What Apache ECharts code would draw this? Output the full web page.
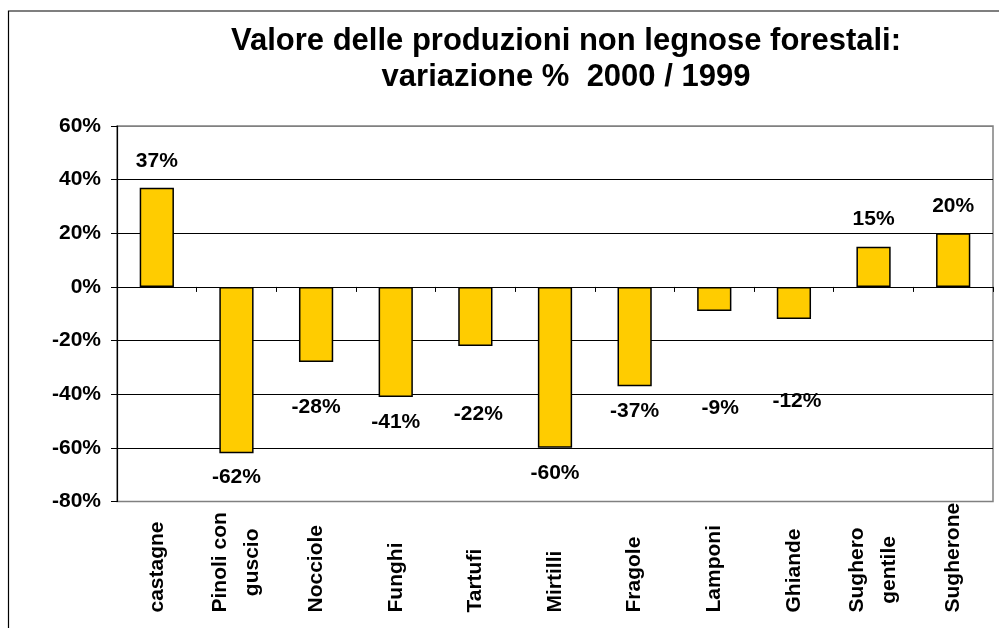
<!DOCTYPE html>
<html>
<head>
<meta charset="utf-8">
<script src="https://cdn.jsdelivr.net/npm/echarts@6/dist/echarts.min.js"></script>
<style>
  html, body { margin: 0; padding: 0; background: #fff; }
  #chart { width: 999px; height: 628px; }
</style>
</head>
<body>
<div id="chart"></div>
<script>
// dati
const categories = ['castagne', 'Pinoli con\nguscio', 'Nocciole', 'Funghi', 'Tartufi', 'Mirtilli',
  'Fragole', 'Lamponi', 'Ghiande', 'Sughero\ngentile', 'Sugherone'];
const variazione = [37, -62, -28, -41, -22, -60, -37, -9, -12, 15, 20];
const yTicks = { min: -80, max: 60, step: 20 };

// spostamento delle etichette (posizionate a mano nell'originale)
const labelShift = [[0, -1], [0, 1], [0, 23], [0, 3], [3, 46], [0, 3], [0, 3], [6, 75], [3, 60], [0, -2], [0, -2]];

const FONT = 'Liberation Sans, Arial, sans-serif';

let myChart = echarts.init(document.getElementById('chart'));

// linee di griglia: bordo grigio sopra/sotto, nere in mezzo
let gridColors = [];
for (let v = yTicks.min; v <= yTicks.max; v += yTicks.step) {
  gridColors.push(v === yTicks.min || v === yTicks.max ? '#808080' : '#000');
}

let option = {
  backgroundColor: '#fff',
  animation: false,
  title: {
    text: 'Valore delle produzioni non legnose forestali:\nvariazione %  2000 / 1999',
    left: 566,
    top: 23,
    textAlign: 'center',
    padding: 0,
    textStyle: {
      fontFamily: FONT,
      fontWeight: 'bold',
      fontSize: 31,
      lineHeight: 36,
      color: '#000'
    }
  },
  graphic: [{
    type: 'rect',
    shape: { x: 8.5, y: 11, width: 1100, height: 800 },
    style: { fill: 'none', stroke: '#000', lineWidth: 1.2 },
    silent: true
  }],
  grid: {
    left: 117,
    right: 6,
    top: 126,
    bottom: 126.5,
    show: true,
    borderColor: '#808080',
    borderWidth: 1.5
  },
  xAxis: [{
    type: 'category',
    data: categories,
    axisLine: { onZero: true, lineStyle: { color: '#000', width: 1 } },
    axisTick: { show: true, inside: false, length: 5, lineStyle: { color: '#000' } },
    axisLabel: { show: false }
  }, {
    type: 'category',
    data: categories,
    position: 'bottom',
    axisLine: { show: false, onZero: false },
    axisTick: { show: false },
    axisLabel: {
      interval: 0,
      rotate: 90,
      align: 'left',
      margin: 111,
      formatter: (v) => v.split('\n').map(s => '{a|' + s + '}').join('\n'),
      rich: {
        a: {
          fontFamily: FONT,
          fontWeight: 'bold',
          fontSize: 21,
          lineHeight: 32,
          color: '#000',
          align: 'center'
        }
      }
    }
  }],
  yAxis: {
    type: 'value',
    min: yTicks.min,
    max: yTicks.max,
    interval: yTicks.step,
    axisLine: { show: true, lineStyle: { color: '#000', width: 1.2 } },
    axisTick: { show: true, length: 6, lineStyle: { color: '#000' } },
    axisLabel: {
      formatter: '{value}%',
      margin: 16,
      fontFamily: FONT,
      fontWeight: 'bold',
      fontSize: 21,
      color: '#000'
    },
    splitLine: { show: true, lineStyle: { color: gridColors, width: 1 } }
  },
  series: [{
    type: 'bar',
    xAxisIndex: 0,
    barWidth: '43%',
    data: variazione.map((v, i) => ({
      value: v,
      label: {
        position: v < 0 ? 'bottom' : 'top',
        distance: v < 0 ? 12 : 15,
        offset: labelShift[i]
      }
    })),
    itemStyle: {
      color: '#FFCC00',
      borderColor: '#000',
      borderWidth: 1.5
    },
    label: {
      show: true,
      formatter: '{c}%',
      fontFamily: FONT,
      fontWeight: 'bold',
      fontSize: 21,
      color: '#000'
    }
  }]
};

myChart.setOption(option);
</script>
</body>
</html>
